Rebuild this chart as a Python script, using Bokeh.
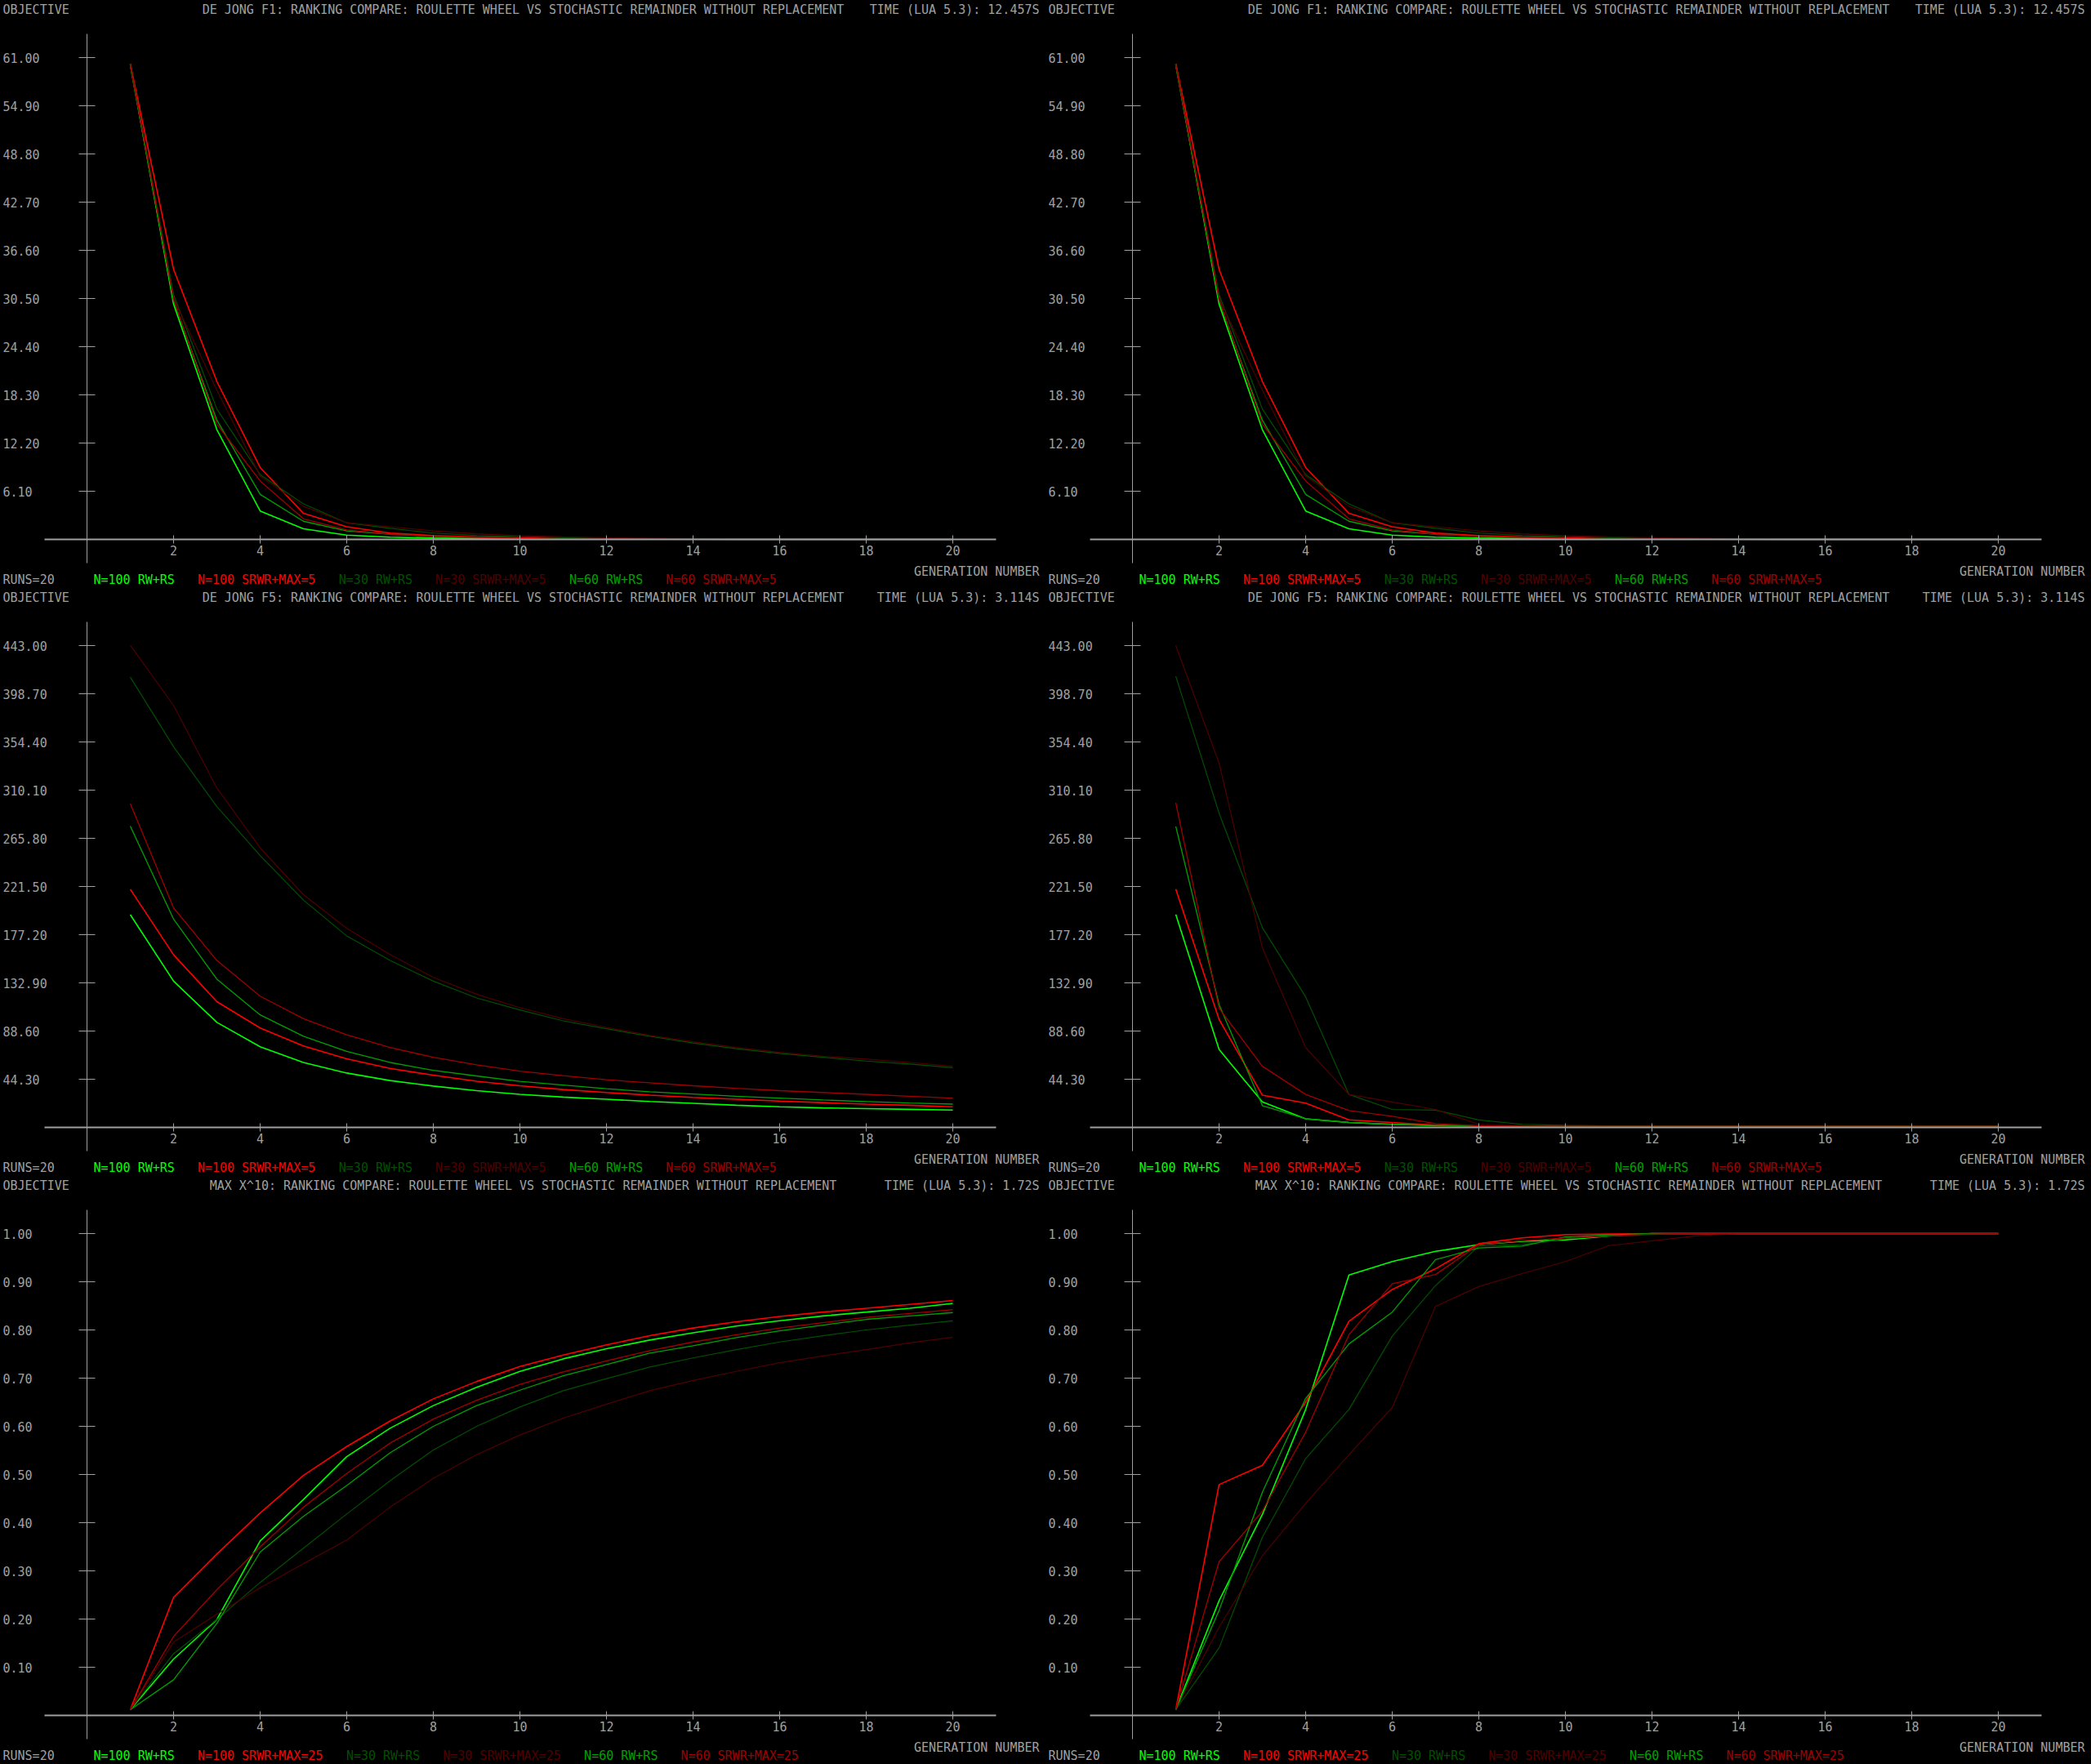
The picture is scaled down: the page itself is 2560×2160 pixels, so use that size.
from bokeh.plotting import figure
from bokeh.models import Range1d, LinearAxis, FixedTicker
from bokeh.layouts import column, row
from bokeh.embed import file_html
from bokeh.resources import INLINE
from bokeh.core.properties import value

# ---------------- data ----------------
generations = list(range(1, 21))
x_ticks = [2, 4, 6, 8, 10, 12, 14, 16, 18, 20]

series_names = ["N=100 RW+RS", "N=100 SRWR+MAX=5", "N=30 RW+RS",
                "N=30 SRWR+MAX=5", "N=60 RW+RS", "N=60 SRWR+MAX=5"]
series_names_max = ["N=100 RW+RS", "N=100 SRWR+MAX=25", "N=30 RW+RS",
                    "N=30 SRWR+MAX=25", "N=60 RW+RS", "N=60 SRWR+MAX=25"]
series_colors = ["#00ff00", "#ff0000", "#005000", "#500000", "#00a000", "#a00000"]

title_f1 = "DE JONG F1: RANKING COMPARE: ROULETTE WHEEL VS STOCHASTIC REMAINDER WITHOUT REPLACEMENT"
title_f5 = "DE JONG F5: RANKING COMPARE: ROULETTE WHEEL VS STOCHASTIC REMAINDER WITHOUT REPLACEMENT"
title_mx = "MAX X^10: RANKING COMPARE: ROULETTE WHEEL VS STOCHASTIC REMAINDER WITHOUT REPLACEMENT"
time_f1 = "TIME (LUA 5.3): 12.457S"
time_f5 = "TIME (LUA 5.3): 3.114S"
time_mx = "TIME (LUA 5.3): 1.72S"
runs_label = "RUNS=20"
y_title = "OBJECTIVE"
x_title = "GENERATION NUMBER"

f1_max = 61.0
f1_ticks = [6.1, 12.2, 18.3, 24.4, 30.5, 36.6, 42.7, 48.8, 54.9, 61.0]
f1_labels = ["6.10", "12.20", "18.30", "24.40", "30.50", "36.60", "42.70", "48.80", "54.90", "61.00"]

f5_max = 443.0
f5_ticks = [44.3, 88.6, 132.9, 177.2, 221.5, 265.8, 310.1, 354.4, 398.7, 443.0]
f5_labels = ["44.30", "88.60", "132.90", "177.20", "221.50", "265.80", "310.10", "354.40", "398.70", "443.00"]

mx_max = 1.0
mx_ticks = [0.1, 0.2, 0.3, 0.4, 0.5, 0.6, 0.7, 0.8, 0.9, 1.0]
mx_labels = ["0.10", "0.20", "0.30", "0.40", "0.50", "0.60", "0.70", "0.80", "0.90", "1.00"]

# De Jong F1 (both columns)
f1_n100_rw = [60.2, 29.8, 13.9, 3.6, 1.35, 0.55, 0.28, 0.17, 0.12, 0.08, 0.05, 0.03, 0.02, 0.02, 0.01, 0.01, 0.01, 0.0, 0.0, 0.0]
f1_n100_srwr = [60.2, 34.2, 20.0, 9.1, 3.3, 1.6, 0.8, 0.48, 0.31, 0.2, 0.13, 0.08, 0.05, 0.04, 0.03, 0.02, 0.01, 0.01, 0.01, 0.0]
f1_n30_rw = [60.0, 31.0, 16.5, 8.2, 4.5, 2.1, 1.4, 0.8, 0.5, 0.34, 0.22, 0.15, 0.1, 0.07, 0.05, 0.04, 0.03, 0.02, 0.01, 0.01]
f1_n30_srwr = [60.2, 30.5, 18.9, 8.0, 4.2, 2.1, 1.6, 1.07, 0.72, 0.48, 0.33, 0.22, 0.15, 0.1, 0.07, 0.05, 0.04, 0.03, 0.02, 0.02]
f1_n60_rw = [60.0, 30.2, 15.1, 5.7, 2.3, 1.07, 0.65, 0.38, 0.2, 0.12, 0.08, 0.05, 0.03, 0.02, 0.02, 0.01, 0.01, 0.01, 0.0, 0.0]
f1_n60_srwr = [60.1, 30.4, 14.6, 7.4, 2.6, 1.2, 0.65, 0.4, 0.25, 0.15, 0.1, 0.06, 0.04, 0.03, 0.02, 0.01, 0.01, 0.01, 0.0, 0.0]

# De Jong F5, left column
f5l_n100_rw = [195.6, 134.5, 96.6, 74.2, 59.7, 50.0, 43.1, 38.0, 33.8, 30.4, 27.9, 25.9, 23.8, 22.1, 20.4, 19.0, 17.9, 17.3, 16.6, 15.9]
f5l_n100_srwr = [219.0, 158.7, 115.6, 91.4, 74.9, 63.1, 54.2, 48.0, 42.4, 38.3, 34.8, 32.1, 29.7, 27.6, 25.9, 24.2, 22.8, 21.4, 20.4, 19.0]
f5l_n30_rw = [414.0, 350.0, 295.0, 250.0, 209.0, 176.0, 153.5, 134.5, 119.0, 108.0, 98.0, 90.7, 83.8, 77.6, 72.4, 68.0, 64.5, 61.0, 58.3, 54.9]
f5l_n30_srwr = [443.3, 388.0, 312.0, 257.0, 214.0, 183.0, 159.0, 138.0, 122.5, 110.0, 100.0, 92.0, 84.5, 78.7, 73.5, 69.0, 65.5, 62.8, 59.7, 56.2]
f5l_n60_rw = [277.0, 191.5, 136.3, 103.5, 83.8, 70.0, 59.7, 52.4, 47.3, 42.4, 39.0, 35.5, 32.8, 30.7, 28.6, 26.9, 25.2, 23.8, 22.4, 21.4]
f5l_n60_srwr = [297.7, 201.8, 153.5, 120.7, 100.0, 85.2, 73.5, 64.5, 57.6, 51.7, 47.6, 43.8, 41.0, 38.3, 35.9, 33.8, 32.1, 30.4, 28.6, 26.9]

# De Jong F5, right column
f5r_n100_rw = [195.8, 71.7, 23.4, 7.9, 4.5, 2.8, 1.8, 1.3, 1.1, 1.0, 1.0, 1.0, 0.9, 0.9, 0.9, 0.9, 0.9, 0.9, 0.9, 0.9]
f5r_n100_srwr = [219.0, 99.3, 29.6, 22.4, 6.9, 4.5, 2.0, 1.3, 1.1, 1.0, 1.0, 1.0, 1.0, 1.0, 1.0, 1.0, 1.0, 1.0, 1.0, 1.0]
f5r_n30_rw = [414.7, 289.0, 183.7, 120.0, 30.3, 16.5, 15.9, 6.9, 2.8, 2.0, 1.5, 1.2, 1.1, 1.1, 1.0, 1.0, 1.0, 1.0, 1.0, 1.0]
f5r_n30_srwr = [443.0, 335.0, 165.0, 73.4, 30.3, 23.4, 16.5, 2.8, 1.7, 1.3, 1.2, 1.2, 1.2, 1.2, 1.2, 1.2, 1.2, 1.2, 1.2, 1.2]
f5r_n60_rw = [276.8, 113.0, 20.0, 7.9, 4.5, 2.8, 2.0, 1.3, 1.1, 1.0, 1.0, 1.0, 1.0, 1.0, 1.0, 1.0, 1.0, 1.0, 1.0, 1.0]
f5r_n60_srwr = [298.5, 109.6, 56.2, 30.3, 15.5, 10.3, 3.4, 1.5, 1.2, 1.1, 1.1, 1.1, 1.1, 1.1, 1.1, 1.1, 1.1, 1.1, 1.1, 1.1]

# MAX X^10, left column
mxl_n100_rw = [0.012, 0.117, 0.199, 0.362, 0.448, 0.537, 0.596, 0.643, 0.681, 0.714, 0.740, 0.761, 0.779, 0.794, 0.808, 0.819, 0.829, 0.837, 0.845, 0.855]
mxl_n100_srwr = [0.012, 0.245, 0.335, 0.420, 0.498, 0.558, 0.611, 0.657, 0.693, 0.724, 0.748, 0.769, 0.788, 0.804, 0.817, 0.828, 0.837, 0.845, 0.853, 0.861]
mxl_n30_rw = [0.012, 0.128, 0.199, 0.276, 0.347, 0.418, 0.487, 0.551, 0.600, 0.640, 0.674, 0.699, 0.723, 0.742, 0.759, 0.775, 0.788, 0.800, 0.810, 0.819]
mxl_n30_srwr = [0.012, 0.152, 0.210, 0.265, 0.315, 0.364, 0.432, 0.492, 0.541, 0.582, 0.617, 0.646, 0.674, 0.695, 0.714, 0.732, 0.746, 0.759, 0.773, 0.785]
mxl_n60_rw = [0.012, 0.074, 0.191, 0.339, 0.413, 0.477, 0.545, 0.600, 0.643, 0.675, 0.705, 0.728, 0.752, 0.767, 0.784, 0.798, 0.810, 0.822, 0.829, 0.836]
mxl_n60_srwr = [0.012, 0.164, 0.261, 0.350, 0.432, 0.502, 0.565, 0.615, 0.654, 0.687, 0.713, 0.736, 0.757, 0.775, 0.790, 0.804, 0.815, 0.826, 0.834, 0.842]

# MAX X^10, right column
mxr_n100_rw = [0.012, 0.238, 0.417, 0.635, 0.914, 0.942, 0.963, 0.977, 0.984, 0.987, 0.995, 1.0, 1.0, 1.0, 1.0, 1.0, 1.0, 1.0, 1.0, 1.0]
mxr_n100_srwr = [0.012, 0.479, 0.519, 0.650, 0.818, 0.884, 0.927, 0.979, 0.991, 0.998, 0.999, 1.0, 1.0, 1.0, 1.0, 1.0, 1.0, 1.0, 1.0, 1.0]
mxr_n30_rw = [0.012, 0.140, 0.370, 0.533, 0.635, 0.787, 0.892, 0.974, 0.977, 0.989, 0.995, 0.998, 1.0, 1.0, 1.0, 1.0, 1.0, 1.0, 1.0, 1.0]
mxr_n30_srwr = [0.012, 0.183, 0.331, 0.440, 0.541, 0.639, 0.849, 0.890, 0.917, 0.942, 0.975, 0.985, 0.995, 1.0, 1.0, 1.0, 1.0, 1.0, 1.0, 1.0]
mxr_n60_rw = [0.012, 0.218, 0.463, 0.658, 0.771, 0.837, 0.946, 0.970, 0.974, 0.993, 0.997, 1.0, 1.0, 1.0, 1.0, 1.0, 1.0, 1.0, 1.0, 1.0]
mxr_n60_srwr = [0.012, 0.319, 0.424, 0.588, 0.790, 0.896, 0.915, 0.977, 0.985, 0.991, 0.995, 0.999, 1.0, 1.0, 1.0, 1.0, 1.0, 1.0, 1.0, 1.0]

# ---------------- styling / layout ----------------
W, H = 1280, 720
X0, PXG = 106, 53          # pixel of generation 0, pixels per generation
Y0, YTOP = 660, 70         # pixel row of zero and of the top tick
FONT = "DejaVu Sans Mono"
FS = "15px"
PITCH = 9.1
TXT = "#a0a0a0"
AX = "#a0a0a0"
LW = [1.6, 1.6, 1.2, 1.2, 1.3, 1.3]
LEFT = 3                   # left margin of texts that hug the left edge
TOP_Y = 11                 # text row of the header
LEG_Y = 709                # text row of the legend


def gx(px):
    return (px - X0) / PXG


def gy(py, m):
    return (Y0 - py) / (Y0 - YTOP) * m


def label(p, x, y, t, color=TXT, align="left"):
    p.text(x=[x], y=[y], text=[t], text_font=value(FONT), text_font_size=FS,
           text_color=color, text_align=align, text_baseline="middle")


def panel(title, time_txt, m, yticks, ylabels, data, names):
    p = figure(width=W, height=H, x_range=Range1d(gx(0), gx(W)),
               y_range=Range1d(gy(H, m), gy(0, m)), output_backend="svg",
               toolbar_location=None, min_border=0, x_axis_type=None,
               y_axis_type=None, background_fill_color="black",
               border_fill_color="black", outline_line_color=None)

    xa = LinearAxis(fixed_location=0, ticker=FixedTicker(ticks=x_ticks),
                    bounds=(gx(54), gx(1219)), axis_line_color=AX, axis_line_width=2,
                    major_tick_line_color=AX, major_tick_in=5, major_tick_out=5,
                    minor_tick_line_color=None, major_label_text_color=TXT,
                    major_label_text_font=FONT, major_label_text_font_size=FS,
                    major_label_standoff=2)
    p.add_layout(xa, "below")
    ya = LinearAxis(fixed_location=0, ticker=FixedTicker(ticks=yticks),
                    bounds=(gy(689, m), gy(41, m)), axis_line_color=AX, axis_line_width=1,
                    major_tick_line_color=AX, major_tick_in=10, major_tick_out=10,
                    minor_tick_line_color=None, major_label_text_color=None)
    p.add_layout(ya, "left")

    p.text(x=[gx(LEFT)] * len(yticks), y=yticks, text=ylabels, text_font=value(FONT),
           text_font_size=FS, text_color=TXT, text_align="left", text_baseline="middle")

    for vals, c, lw in zip(data, series_colors, LW):
        p.line(generations, vals, line_color=c, line_width=lw)

    label(p, gx(LEFT), gy(TOP_Y, m), y_title)
    label(p, gx(640), gy(TOP_Y, m), title, align="center")
    label(p, gx(1272), gy(TOP_Y, m), time_txt, align="right")
    label(p, gx(1272), gy(699, m), x_title, align="right")
    label(p, gx(LEFT), gy(LEG_Y, m), runs_label)
    xpos = 114
    for name, c in zip(names, series_colors):
        label(p, gx(xpos), gy(LEG_Y, m), name, color=c)
        xpos += (len(name) + 3) * PITCH
    return p


f1_data = [f1_n100_rw, f1_n100_srwr, f1_n30_rw, f1_n30_srwr, f1_n60_rw, f1_n60_srwr]
f5l_data = [f5l_n100_rw, f5l_n100_srwr, f5l_n30_rw, f5l_n30_srwr, f5l_n60_rw, f5l_n60_srwr]
f5r_data = [f5r_n100_rw, f5r_n100_srwr, f5r_n30_rw, f5r_n30_srwr, f5r_n60_rw, f5r_n60_srwr]
mxl_data = [mxl_n100_rw, mxl_n100_srwr, mxl_n30_rw, mxl_n30_srwr, mxl_n60_rw, mxl_n60_srwr]
mxr_data = [mxr_n100_rw, mxr_n100_srwr, mxr_n30_rw, mxr_n30_srwr, mxr_n60_rw, mxr_n60_srwr]

p1 = panel(title_f1, time_f1, f1_max, f1_ticks, f1_labels, f1_data, series_names)
p2 = panel(title_f1, time_f1, f1_max, f1_ticks, f1_labels, f1_data, series_names)
p3 = panel(title_f5, time_f5, f5_max, f5_ticks, f5_labels, f5l_data, series_names)
p4 = panel(title_f5, time_f5, f5_max, f5_ticks, f5_labels, f5r_data, series_names)
p5 = panel(title_mx, time_mx, mx_max, mx_ticks, mx_labels, mxl_data, series_names_max)
p6 = panel(title_mx, time_mx, mx_max, mx_ticks, mx_labels, mxr_data, series_names_max)

layout = column(row(p1, p2, spacing=0), row(p3, p4, spacing=0), row(p5, p6, spacing=0),
                spacing=0, styles={"background-color": "black"})

open("out.html", "w").write(file_html(layout, INLINE))
